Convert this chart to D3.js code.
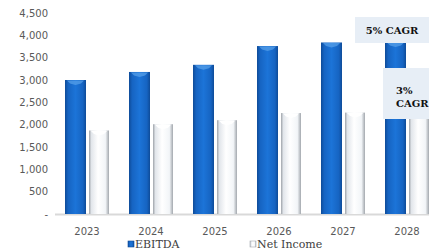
<!DOCTYPE html>
<html>
<head>
<meta charset="utf-8">
<script src="https://cdn.jsdelivr.net/npm/d3@7"></script>
<style>
  body { margin: 0; background: #fff; }
  svg { display: block; }
</style>
</head>
<body>
<div id="chart"></div>
<script>
// data
const years = ["2023", "2024", "2025", "2026", "2027", "2028"];
const ebitda = [3000, 3180, 3340, 3760, 3840, 3850];
const netIncome = [1870, 2010, 2100, 2260, 2270, 2300];
const yTicks = [0, 500, 1000, 1500, 2000, 2500, 3000, 3500, 4000, 4500];
const seriesNames = ["EBITDA", "Net Income"];
const cagrNotes = [["5% CAGR"], ["3%", "CAGR"]];

const width = 429, height = 251;
const margin = {top: 13, right: -10, bottom: 37, left: 55};

const svg = d3.select("#chart").append("svg")
    .attr("width", width)
    .attr("height", height);

// gradients for the bars
const defs = svg.append("defs");
const blue = defs.append("linearGradient").attr("id", "blueGrad");
[["0%", "#0e4b98"], ["15%", "#1664c2"], ["50%", "#1c74d8"], ["85%", "#1664c2"], ["100%", "#0e4b98"]]
    .forEach(s => blue.append("stop").attr("offset", s[0]).attr("stop-color", s[1]));
const white = defs.append("linearGradient").attr("id", "whiteGrad");
[["0%", "#9ea3a9"], ["12%", "#e2e6eb"], ["45%", "#ffffff"], ["82%", "#f2f5f8"], ["100%", "#a3a8ae"]]
    .forEach(s => white.append("stop").attr("offset", s[0]).attr("stop-color", s[1]));

const x = d3.scaleBand()
    .domain(years)
    .range([margin.left, width - margin.right]);

const y = d3.scaleLinear()
    .domain([0, 4500])
    .range([height - margin.bottom, margin.top]);

// y axis labels
svg.append("g")
    .selectAll("text")
    .data(yTicks)
    .join("text")
    .attr("x", 48)
    .attr("y", d => y(d))
    .attr("dy", "0.35em")
    .attr("text-anchor", "end")
    .style("font-family", "DejaVu Sans")
    .style("font-size", "10px")
    .style("fill", "#595959")
    .text(d => d === 0 ? "-" : d3.format(",")(d));

// baseline
svg.append("line")
    .attr("x1", margin.left)
    .attr("x2", width)
    .attr("y1", y(0) + 0.5)
    .attr("y2", y(0) + 0.5)
    .style("stroke", "#d9d9d9")
    .style("stroke-width", 2);

const barW = 21;
const ebX = d => x(d) + 10;
const niX = d => x(d) + 10 + barW + 3;

// EBITDA bars
const eb = svg.append("g").selectAll("g")
    .data(years.map((d, i) => ({year: d, v: ebitda[i]})))
    .join("g");
eb.append("rect")
    .attr("x", d => ebX(d.year))
    .attr("y", d => y(d.v))
    .attr("width", barW)
    .attr("height", d => y(0) - y(d.v))
    .style("fill", "url(#blueGrad)");
eb.append("path")
    .attr("d", d => {
      const x0 = ebX(d.year), t = y(d.v);
      return `M${x0 + 2},${t + 0.5} L${x0 + barW - 2},${t + 0.5} L${x0 + barW - 5},${t + 3.5} L${x0 + barW / 2},${t + 5} L${x0 + 5},${t + 3.5} Z`;
    })
    .style("fill", "#5aa3ea")
    .style("opacity", 0.7);

// Net Income bars
const ni = svg.append("g").selectAll("g")
    .data(years.map((d, i) => ({year: d, v: netIncome[i]})))
    .join("g");
ni.append("rect")
    .attr("x", d => niX(d.year))
    .attr("y", d => y(d.v))
    .attr("width", barW - 1)
    .attr("height", d => y(0) - y(d.v))
    .style("fill", "url(#whiteGrad)");
ni.append("path")
    .attr("d", d => {
      const x0 = niX(d.year), t = y(d.v), w = barW - 1;
      return `M${x0 + 2},${t + 0.5} L${x0 + w - 2},${t + 0.5} L${x0 + w - 5},${t + 3.5} L${x0 + w / 2},${t + 5} L${x0 + 5},${t + 3.5} Z`;
    })
    .style("fill", "#ffffff");

// x axis labels
svg.append("g")
    .selectAll("text")
    .data(years)
    .join("text")
    .attr("x", d => x(d) + x.bandwidth() / 2)
    .attr("y", 231)
    .attr("dy", "0.35em")
    .attr("text-anchor", "middle")
    .style("font-family", "DejaVu Sans")
    .style("font-size", "10px")
    .style("fill", "#595959")
    .text(d => d);

// legend
const legendX = [128, 250];
const leg = svg.append("g").selectAll("g")
    .data(seriesNames)
    .join("g")
    .attr("transform", (d, i) => `translate(${legendX[i]}, 244)`);
leg.append("rect")
    .attr("x", 0)
    .attr("y", -3)
    .attr("width", 6)
    .attr("height", 6)
    .style("fill", (d, i) => i === 0 ? "url(#blueGrad)" : "url(#whiteGrad)")
    .style("stroke", (d, i) => i === 0 ? "#0e4b98" : "#a3a8ae")
    .style("stroke-width", 0.6);
leg.append("text")
    .attr("x", 7)
    .attr("dy", "0.35em")
    .style("font-family", "DejaVu Serif")
    .style("font-size", "11px")
    .style("fill", "#404040")
    .text(d => d);

// CAGR callouts
const boxes = [
  {x: 355, y: 17, w: 80, h: 26, tx: 392, ty: 30, anchor: "middle", lines: cagrNotes[0]},
  {x: 383, y: 68, w: 50, h: 51, tx: 396, ty: 90, anchor: "start", lines: cagrNotes[1]}
];
const cb = svg.append("g").selectAll("g").data(boxes).join("g");
cb.append("rect")
    .attr("x", d => d.x)
    .attr("y", d => d.y)
    .attr("width", d => d.w)
    .attr("height", d => d.h)
    .style("fill", "#e7eef6");
cb.each(function(d) {
  const t = d3.select(this).append("text")
      .attr("text-anchor", d.anchor)
      .style("font-family", "DejaVu Serif")
      .style("font-weight", "bold")
      .style("font-size", "10px")
      .style("fill", "#111");
  d.lines.forEach((l, i) => {
    t.append("tspan")
        .attr("x", d.tx)
        .attr("y", d.ty + i * 13)
        .attr("dy", "0.35em")
        .text(l);
  });
});
</script>
</body>
</html>
